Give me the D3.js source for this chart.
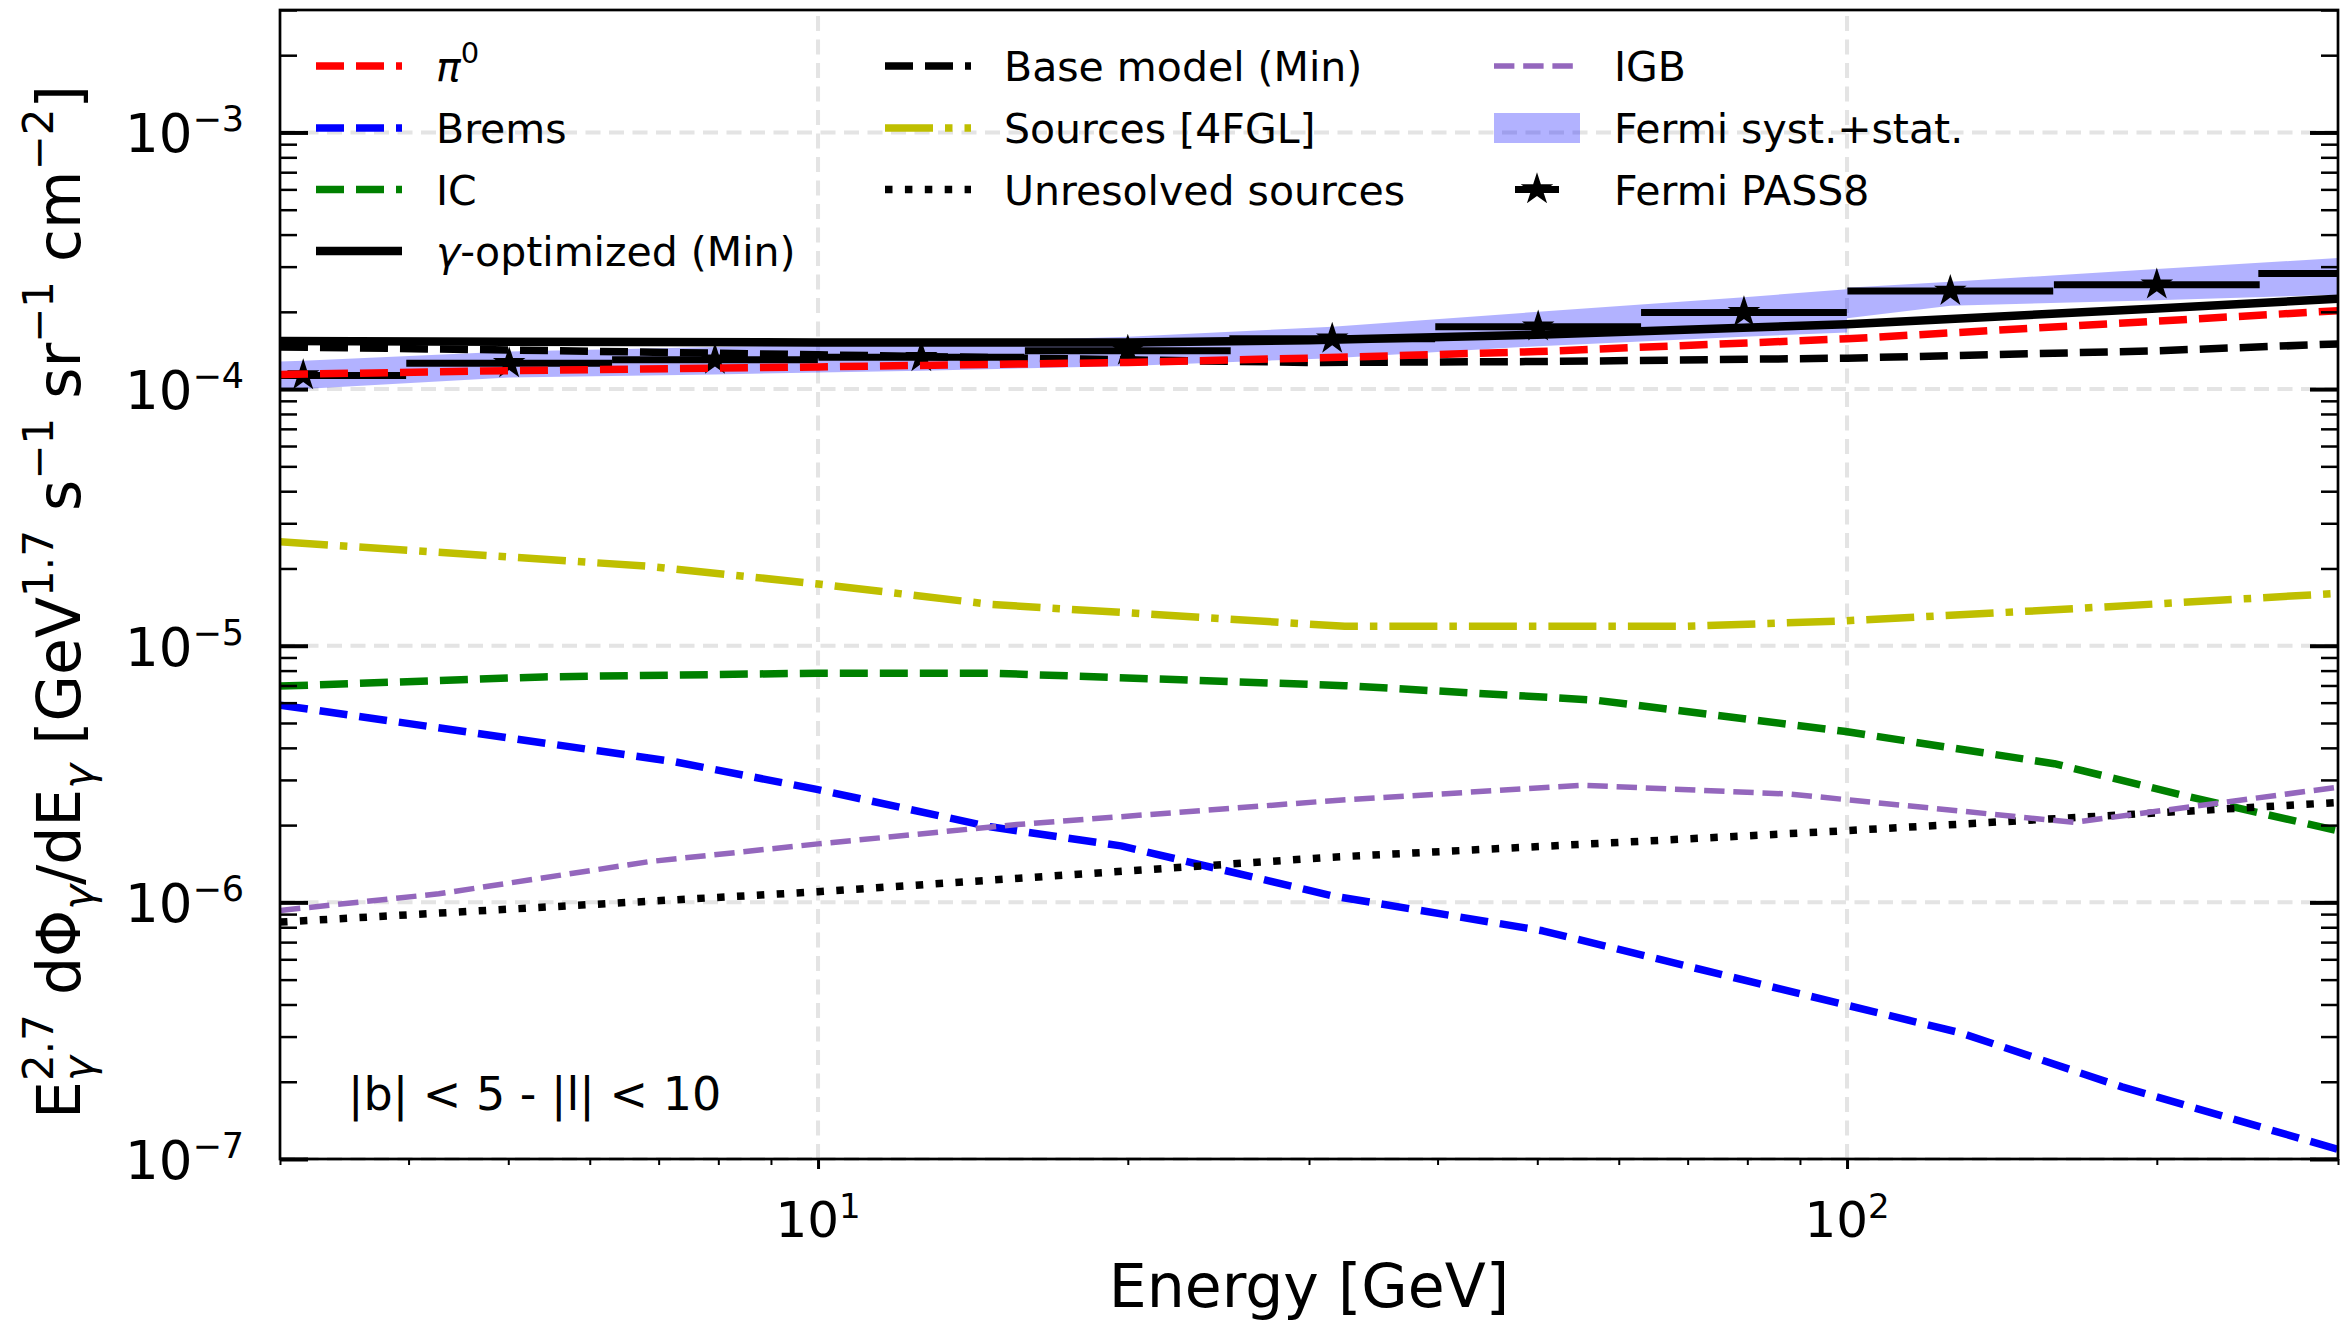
<!DOCTYPE html>
<html>
<head>
<meta charset="utf-8">
<script src="https://cdn.jsdelivr.net/npm/d3@7"></script>
<style>
  html, body { margin: 0; padding: 0; background: #fff; }
  svg { display: block; font-family: "DejaVu Sans", sans-serif; }
  text { white-space: pre; }
</style>
</head>
<body>
<svg id="chart" width="2342" height="1321"></svg>
<script>
// ---------------- data (energies in GeV, fluxes E^2.7 dPhi/dE) ----------------
const modelEnergy   = [3, 5, 10, 20, 30, 50, 100, 200, 300];
const pi0Flux       = [1.14e-4, 1.18e-4, 1.22e-4, 1.27e-4, 1.32e-4, 1.40e-4, 1.57e-4, 1.84e-4, 2.02e-4];
const gammaOptFlux  = [1.54e-4, 1.53e-4, 1.52e-4, 1.52e-4, 1.55e-4, 1.63e-4, 1.79e-4, 2.06e-4, 2.25e-4];
const baseModelFlux = [1.46e-4, 1.42e-4, 1.36e-4, 1.30e-4, 1.27e-4, 1.28e-4, 1.32e-4, 1.41e-4, 1.50e-4];

const bremsEnergy = [3, 7.26, 10, 14.7, 19.7, 31.6, 50.6, 99.3, 129, 185, 300];
const bremsFlux   = [5.87e-6, 3.53e-6, 2.75e-6, 1.97e-6, 1.66e-6, 1.06e-6, 7.75e-7, 4.0e-7, 3.1e-7, 1.91e-7, 1.09e-7];

const icEnergy = [3, 5.4, 10, 14.7, 32.5, 56.9, 99.3, 159, 214, 300];
const icFlux   = [6.96e-6, 7.56e-6, 7.82e-6, 7.82e-6, 6.99e-6, 6.14e-6, 4.64e-6, 3.47e-6, 2.59e-6, 1.9e-6];

const sourcesEnergy = [3, 6.84, 10, 14.7, 32.5, 69.8, 99.3, 159, 300];
const sourcesFlux   = [2.54e-5, 2.04e-5, 1.74e-5, 1.45e-5, 1.19e-5, 1.19e-5, 1.25e-5, 1.38e-5, 1.60e-5];

const unresolvedEnergy = [3, 10, 31.6, 99.3, 300];
const unresolvedFlux   = [8.38e-7, 1.10e-6, 1.50e-6, 1.90e-6, 2.45e-6];

const igbEnergy = [3, 4.28, 6.84, 10, 15.6, 31.6, 55.2, 88.3, 166, 300];
const igbFlux   = [9.3e-7, 1.08e-6, 1.44e-6, 1.69e-6, 2.01e-6, 2.49e-6, 2.86e-6, 2.64e-6, 2.05e-6, 2.81e-6];

// Fermi-LAT PASS8 spectrum: bin centres, fluxes, bins are 0.2 dex wide
const fermiEnergy = [3.16, 5.01, 7.94, 12.6, 20.0, 31.6, 50.1, 79.4, 126, 200, 316];
const fermiFlux   = [1.13e-4, 1.26e-4, 1.30e-4, 1.33e-4, 1.41e-4, 1.57e-4, 1.75e-4, 1.99e-4, 2.41e-4, 2.55e-4, 2.82e-4];
const fermiBinHalfWidthDex = 0.1;

// systematic + statistical band (two energy ranges joined at 100 GeV)
const bandLowEnergy = [3, 3.16, 5.01, 7.94, 12.6, 20.0, 31.6, 50.1, 79.4, 100];
const bandLowMin    = [1.01e-4, 1.00e-4, 1.11e-4, 1.14e-4, 1.18e-4, 1.23e-4, 1.32e-4, 1.47e-4, 1.60e-4, 1.66e-4];
const bandLowMax    = [1.28e-4, 1.29e-4, 1.40e-4, 1.46e-4, 1.51e-4, 1.60e-4, 1.75e-4, 2.00e-4, 2.28e-4, 2.45e-4];
const bandHighEnergy = [100, 126, 200, 300];
const bandHighMin    = [1.89e-4, 2.11e-4, 2.22e-4, 2.33e-4];
const bandHighMax    = [2.48e-4, 2.62e-4, 2.94e-4, 3.24e-4];

const xMajorTicks = [10, 100];
const yMajorTicks = [1e-7, 1e-6, 1e-5, 1e-4, 1e-3];
const regionLabel = "|b| < 5 - |l| < 10";

// ---------------- scales ----------------
const L = 280, R = 2338, T = 10, B = 1159;
const x = d3.scaleLog().domain([3, 300]).range([L, R]);
const y = d3.scaleLog().domain([1e-7, 3e-3]).range([B, T]);

const svg = d3.select("#chart");
svg.append("defs").append("clipPath").attr("id", "plotclip")
  .append("rect").attr("x", L).attr("y", T).attr("width", R - L).attr("height", B - T);

// ---------------- grid ----------------
const gridStyle = s => s.attr("stroke", "#e4e4e4").attr("stroke-width", 4).attr("stroke-dasharray", "15 8.5");
const grid = svg.append("g");
yMajorTicks.forEach(v => grid.append("line").attr("x1", L).attr("x2", R).attr("y1", y(v)).attr("y2", y(v)).call(gridStyle));
xMajorTicks.forEach(v => grid.append("line").attr("y1", B).attr("y2", T).attr("x1", x(v)).attr("x2", x(v)).call(gridStyle));

// ---------------- band ----------------
const plotArea = svg.append("g").attr("clip-path", "url(#plotclip)");
const area = d3.area().x(d => x(d[0])).y0(d => y(d[1])).y1(d => y(d[2]));
const bandColor = "rgba(0,0,255,0.3)";
plotArea.append("path").datum(bandLowEnergy.map((e, i) => [e, bandLowMin[i], bandLowMax[i]]))
  .attr("d", area).attr("fill", bandColor);
plotArea.append("path").datum(bandHighEnergy.map((e, i) => [e, bandHighMin[i], bandHighMax[i]]))
  .attr("d", area).attr("fill", bandColor);

// ---------------- Fermi data points ----------------
const star = d3.symbol().type(d3.symbolStar).size(330);
const fermi = plotArea.append("g");
fermiEnergy.forEach((e, i) => {
  const f = Math.pow(10, fermiBinHalfWidthDex);
  fermi.append("line").attr("x1", x(e / f)).attr("x2", x(e * f))
    .attr("y1", y(fermiFlux[i])).attr("y2", y(fermiFlux[i]))
    .attr("stroke", "#000").attr("stroke-width", 7);
  fermi.append("path").attr("d", star).attr("transform", `translate(${x(e)},${y(fermiFlux[i])})`).attr("fill", "#000");
});

// ---------------- model curves ----------------
const series = [
  { e: bremsEnergy, v: bremsFlux, color: "#0000ff", w: 7.5, dash: "28 12" },
  { e: icEnergy, v: icFlux, color: "#008000", w: 7.5, dash: "28 12" },
  { e: sourcesEnergy, v: sourcesFlux, color: "#bfbf00", w: 7.5, dash: "48 12 7.5 12" },
  { e: unresolvedEnergy, v: unresolvedFlux, color: "#000", w: 7.5, dash: "7.5 12.4" },
  { e: igbEnergy, v: igbFlux, color: "#9467bd", w: 5.5, dash: "20.4 8.8" },
  { e: modelEnergy, v: baseModelFlux, color: "#000", w: 7.5, dash: "28 12" },
  { e: modelEnergy, v: gammaOptFlux, color: "#000", w: 8.5, dash: null },
  { e: modelEnergy, v: pi0Flux, color: "#ff0000", w: 7.5, dash: "28 12" }
];
const line = d3.line().x(d => x(d[0])).y(d => y(d[1]));
series.forEach(s => {
  plotArea.append("path").datum(s.e.map((e, i) => [e, s.v[i]]))
    .attr("d", line).attr("fill", "none").attr("stroke", s.color)
    .attr("stroke-width", s.w).attr("stroke-dasharray", s.dash)
    .attr("stroke-linejoin", "round");
});

// ---------------- axes ----------------
const xMinor = x.ticks(20).filter(v => !xMajorTicks.includes(v));
const yMinor = [];
for (let k = -7; k <= -3; k++) for (let m = 2; m <= 9; m++) {
  const v = m * Math.pow(10, k);
  if (v <= 3e-3) yMinor.push(v);
}
function styleTicks(sel, w) {
  sel.select(".domain").remove();
  sel.selectAll("line").attr("stroke", "#000").attr("stroke-width", w);
}
svg.append("g").attr("transform", `translate(${L},0)`)
  .call(d3.axisRight(y).tickValues(yMajorTicks).tickSize(28).tickFormat("")).call(styleTicks, 4);
svg.append("g").attr("transform", `translate(${L},0)`)
  .call(d3.axisRight(y).tickValues(yMinor).tickSize(17).tickFormat("")).call(styleTicks, 2.5);
svg.append("g").attr("transform", `translate(${R},0)`)
  .call(d3.axisLeft(y).tickValues(yMajorTicks).tickSize(28).tickFormat("")).call(styleTicks, 4);
svg.append("g").attr("transform", `translate(${R},0)`)
  .call(d3.axisLeft(y).tickValues(yMinor).tickSize(17).tickFormat("")).call(styleTicks, 2.5);
svg.append("g").attr("transform", `translate(0,${B})`)
  .call(d3.axisBottom(x).tickValues(xMajorTicks).tickSize(10).tickFormat("")).call(styleTicks, 3);
svg.append("g").attr("transform", `translate(0,${B})`)
  .call(d3.axisBottom(x).tickValues(xMinor).tickSize(6).tickFormat("")).call(styleTicks, 2);

// frame
svg.append("rect").attr("x", L).attr("y", T).attr("width", R - L).attr("height", B - T)
  .attr("fill", "none").attr("stroke", "#000").attr("stroke-width", 2.7);

// tick labels with powers of ten
function powerLabel(sel, exp, size, supSize, raise) {
  sel.append("tspan").text("10").attr("font-size", size);
  sel.append("tspan").text(exp).attr("font-size", supSize).attr("dy", -raise);
}
yMajorTicks.forEach(v => {
  const ex = Math.round(Math.log10(v));
  svg.append("text").attr("x", 244).attr("y", y(v) + 20).attr("text-anchor", "end")
    .call(powerLabel, (ex < 0 ? "\u2212" : "") + Math.abs(ex), 53, 35, 21);
});
xMajorTicks.forEach(v => {
  const ex = Math.round(Math.log10(v));
  svg.append("text").attr("x", x(v)).attr("y", 1237).attr("text-anchor", "middle")
    .call(powerLabel, String(ex), 50, 34, 19);
});

// axis titles
svg.append("text").attr("x", (L + R) / 2).attr("y", 1307).attr("text-anchor", "middle")
  .attr("font-size", 60).text("Energy [GeV]");

function measure(txt, size, italic) {
  const t = svg.append("text").attr("font-size", size).attr("font-style", italic ? "italic" : null).text(txt);
  const w = t.node().getComputedTextLength();
  t.remove();
  return w;
}
const yl = svg.append("text").attr("transform", "translate(80,602) rotate(-90)")
  .attr("text-anchor", "middle").attr("font-size", 60);
const subSize = 42, subDrop = 13, supRise = 27;
let shift = 0;
function piece(t, kind, opts = {}) {
  const ts = yl.append("tspan").text(t);
  let target = 0;
  if (kind === "sub") { ts.attr("font-size", subSize).attr("font-style", "italic"); target = subDrop; }
  if (kind === "sup") { ts.attr("font-size", subSize); target = -supRise; }
  if (target !== shift) { ts.attr("dy", target - shift); shift = target; }
  if (opts.back) ts.attr("dx", -opts.back);
}
const gW = measure("\u03b3", subSize, true);
piece("E");
piece("\u03b3", "sub");
piece("2.7", "sup", { back: gW });
piece(" d\u03a6");
piece("\u03b3", "sub");
piece("/dE");
piece("\u03b3", "sub");
piece(" [GeV");
piece("1.7", "sup");
piece(" s");
piece("\u22121", "sup");
piece(" sr");
piece("\u22121", "sup");
piece(" cm");
piece("\u22122", "sup");
piece("]");

// region annotation
svg.append("text").attr("x", 348).attr("y", 1110).attr("font-size", 46).text(regionLabel);

// ---------------- legend ----------------
const legendRows = [66, 128, 189.5, 251];
const legendCols = [{ hx: 316, tx: 436 }, { hx: 885, tx: 1004 }, { hx: 1494, tx: 1614 }];
const handleLen = 86;
const legendItems = [
  { col: 0, row: 0, kind: "line", color: "#ff0000", w: 7.5, dash: "28 12", label: [["\u03c0", "italic"], ["0", "sup"]] },
  { col: 0, row: 1, kind: "line", color: "#0000ff", w: 7.5, dash: "28 12", label: [["Brems"]] },
  { col: 0, row: 2, kind: "line", color: "#008000", w: 7.5, dash: "28 12", label: [["IC"]] },
  { col: 0, row: 3, kind: "line", color: "#000", w: 8.5, dash: null, label: [["\u03b3", "italic"], ["-optimized (Min)"]] },
  { col: 1, row: 0, kind: "line", color: "#000", w: 7.5, dash: "28 12", label: [["Base model (Min)"]] },
  { col: 1, row: 1, kind: "line", color: "#bfbf00", w: 7.5, dash: "48 12 7.5 12", label: [["Sources [4FGL]"]] },
  { col: 1, row: 2, kind: "line", color: "#000", w: 7.5, dash: "7.5 12.4", label: [["Unresolved sources"]] },
  { col: 2, row: 0, kind: "line", color: "#9467bd", w: 5.5, dash: "20.4 8.8", label: [["IGB"]] },
  { col: 2, row: 1, kind: "band", label: [["Fermi syst.+stat."]] },
  { col: 2, row: 2, kind: "data", label: [["Fermi PASS8"]] }
];
const legend = svg.append("g");
legendItems.forEach(it => {
  const c = legendCols[it.col], yy = legendRows[it.row];
  if (it.kind === "line") {
    legend.append("line").attr("x1", c.hx).attr("x2", c.hx + handleLen).attr("y1", yy).attr("y2", yy)
      .attr("stroke", it.color).attr("stroke-width", it.w).attr("stroke-dasharray", it.dash);
  } else if (it.kind === "band") {
    legend.append("rect").attr("x", c.hx).attr("y", yy - 15).attr("width", handleLen).attr("height", 30).attr("fill", bandColor);
  } else {
    const cx = c.hx + handleLen / 2;
    legend.append("line").attr("x1", cx - 22).attr("x2", cx + 22).attr("y1", yy).attr("y2", yy)
      .attr("stroke", "#000").attr("stroke-width", 7);
    legend.append("path").attr("d", star).attr("transform", `translate(${cx},${yy})`).attr("fill", "#000");
  }
  const t = legend.append("text").attr("x", c.tx).attr("y", yy + 15).attr("font-size", 41);
  it.label.forEach(([s, st]) => {
    const ts = t.append("tspan").text(s);
    if (st === "italic") ts.attr("font-style", "italic");
    if (st === "sup") ts.attr("font-size", 29).attr("dy", -18);
  });
});
</script>
</body>
</html>
